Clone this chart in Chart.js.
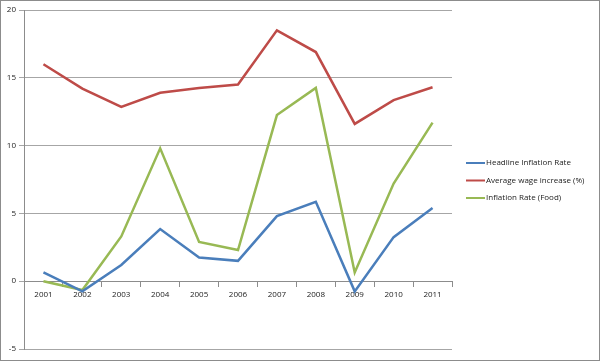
<!DOCTYPE html>
<html>
<head>
<meta charset="utf-8">
<script src="https://cdn.jsdelivr.net/npm/chart.js@4"></script>
<style>
  html, body { margin: 0; padding: 0; background: #fff; }
  #wrap { width: 600px; height: 361px; position: relative; }
</style>
</head>
<body>
<div id="wrap"><canvas id="chart" width="600" height="361"></canvas></div>
<script>
const years = ['2001', '2002', '2003', '2004', '2005', '2006', '2007', '2008', '2009', '2010', '2011'];
const headlineInflation = [0.65, -0.75, 1.2, 3.85, 1.75, 1.5, 4.8, 5.85, -0.75, 3.25, 5.4];
const averageWage = [16.0, 14.2, 12.85, 13.9, 14.25, 14.5, 18.5, 16.9, 11.6, 13.35, 14.3];
const foodInflation = [0.0, -0.65, 3.3, 9.8, 2.9, 2.3, 12.25, 14.25, 0.65, 7.2, 11.7];
const seriesNames = ['Headline Inflation Rate', 'Average wage increase (%)', 'Inflation Rate (Food)'];
const seriesColors = ['#4a7ebb', '#be4b48', '#98b954'];

const font = { family: 'Open Sans', size: 8 };

// legend drawn by hand so the plot keeps its own width
const sideLegend = {
  id: 'sideLegend',
  afterDraw(chart) {
    const { ctx } = chart;
    ctx.save();
    ctx.font = `${font.size}px ${font.family}`;
    ctx.textBaseline = 'middle';
    ctx.fillStyle = '#222';
    chart.data.datasets.forEach((ds, i) => {
      const y = 163 + i * 17.5;
      ctx.strokeStyle = ds.borderColor;
      ctx.lineWidth = 2;
      ctx.beginPath();
      ctx.moveTo(466, y);
      ctx.lineTo(485, y);
      ctx.stroke();
      ctx.fillText(ds.label, 486, y);
    });
    // outer frame
    ctx.strokeStyle = '#8c8c8c';
    ctx.lineWidth = 1;
    ctx.strokeRect(0.5, 0.5, chart.width - 1, chart.height - 1);
    ctx.restore();
  },
};

new Chart(document.getElementById('chart'), {
  type: 'line',
  data: {
    labels: years,
    datasets: [headlineInflation, averageWage, foodInflation].map((values, i) => ({
      label: seriesNames[i],
      data: values,
      borderColor: seriesColors[i],
      backgroundColor: seriesColors[i],
      borderWidth: 2.5,
      pointRadius: 0,
      tension: 0,
    })),
  },
  options: {
    responsive: false,
    animation: false,
    layout: { padding: { left: 0, top: 10, right: 148, bottom: 12 } },
    scales: {
      x: {
        position: { y: 0 },
        offset: true,
        grid: {
          offset: true,
          drawOnChartArea: false,
          drawTicks: true,
          tickLength: 5,
          color: '#8c8c8c',
        },
        border: { display: true, color: '#8c8c8c' },
        ticks: { color: '#222', font, padding: 4, maxRotation: 0, autoSkip: false },
      },
      y: {
        min: -5,
        max: 20,
        ticks: { stepSize: 5, color: '#222', font, padding: 3 },
        grid: { color: '#a6a6a6', tickLength: 5 },
        border: { display: true, color: '#8c8c8c' },
        afterFit(scale) { scale.width = 24; },
      },
    },
    plugins: {
      legend: { display: false },
      tooltip: { enabled: false },
    },
  },
  plugins: [sideLegend],
});
</script>
</body>
</html>
